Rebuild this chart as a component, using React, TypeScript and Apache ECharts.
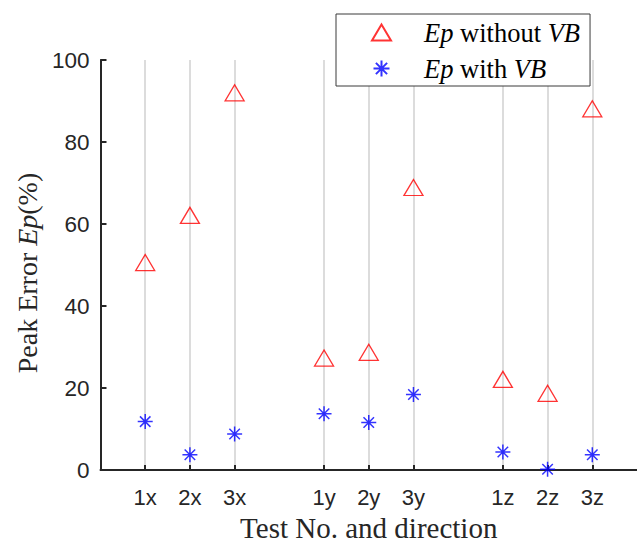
import React, { useEffect, useRef } from "react";
import * as echarts from "echarts";

const categories = ["1x", "2x", "3x", "1y", "2y", "3y", "1z", "2z", "3z"];
const groupSize = 3;
const epWithoutVB = [50.6, 62.1, 92, 27.3, 28.7, 68.9, 22.1, 18.7, 88.1];
const epWithVB = [11.8, 3.7, 8.8, 13.7, 11.6, 18.4, 4.4, 0.2, 3.7];
const yTicks = { min: 0, max: 100, interval: 20 };

// Axis categories with a blank spacer before, between and after each group
const axisCats: string[] = [""];
const catIndex: number[] = [];
categories.forEach((c, i) => {
  catIndex.push(axisCats.length);
  axisCats.push(c);
  if ((i + 1) % groupSize === 0) axisCats.push("");
});

const serif = "Liberation Serif, Times New Roman, serif";
const sans = "Liberation Sans, Arial, Helvetica, sans-serif";
const asterisk =
  "path://M0,-1L0,1M-1,0L1,0M-0.7,-0.7L0.7,0.7M-0.7,0.7L0.7,-0.7";

export default function App() {
  const ref = useRef<HTMLDivElement>(null);
  useEffect(() => {
    if (!ref.current) return;
    const chart = echarts.init(ref.current, undefined, { renderer: "svg" });
    chart.setOption({
      animation: false,
      backgroundColor: "#ffffff",
      grid: {
        left: 100.5,
        right: 0,
        top: 60,
        bottom: 73,
        containLabel: false,
        outerBoundsMode: "none",
      },
      legend: {
        orient: "vertical",
        left: 336,
        top: 14,
        padding: [5, 10, 4, 35],
        itemWidth: 19,
        itemHeight: 16,
        itemGap: 9,
        borderColor: "#3a3a3a",
        borderWidth: 1,
        backgroundColor: "#ffffff",
        data: ["Ep without VB", "Ep with VB"],
        formatter: (name: string) =>
          name === "Ep without VB"
            ? "{i|Ep} without {i|VB}"
            : "{i|Ep} with {i|VB}",
        textStyle: {
          fontFamily: serif,
          fontSize: 26.5,
          color: "#000",
          lineHeight: 26,
          padding: [0, 0, 0, 28],
          rich: {
            i: { fontFamily: serif, fontSize: 26.5, fontStyle: "italic", color: "#000" },
          },
        },
      },
      xAxis: {
        type: "category",
        data: axisCats,
        boundaryGap: false,
        name: "Test No. and direction",
        nameLocation: "middle",
        nameGap: 43,
        nameTextStyle: { fontFamily: serif, fontSize: 29, color: "#262626" },
        axisLine: { show: true, lineStyle: { color: "#262626", width: 2 } },
        axisTick: {
          show: true,
          inside: true,
          length: 5,
          interval: (idx: number, v: string) => v !== "",
          lineStyle: { color: "#262626", width: 2 },
        },
        axisLabel: {
          interval: (idx: number, v: string) => v !== "",
          fontFamily: sans,
          fontSize: 22,
          color: "#262626",
          margin: 16,
        },
        splitLine: {
          show: true,
          interval: (idx: number, v: string) => v !== "",
          lineStyle: { color: "#dcdcdc", width: 2 },
        },
      },
      yAxis: {
        type: "value",
        min: yTicks.min,
        max: yTicks.max,
        interval: yTicks.interval,
        name: "Peak Error {i|Ep}(%)",
        nameLocation: "middle",
        nameGap: 57,
        nameTextStyle: {
          fontFamily: serif,
          fontSize: 28,
          color: "#262626",
          padding: [0, 16, 0, 0],
          rich: {
            i: { fontFamily: serif, fontSize: 28, fontStyle: "italic", color: "#262626" },
          },
        },
        axisLine: { show: true, lineStyle: { color: "#262626", width: 2 } },
        axisTick: { show: true, inside: true, length: 6, lineStyle: { color: "#262626", width: 2 } },
        axisLabel: { fontFamily: sans, fontSize: 22.5, color: "#262626", margin: 11 },
        splitLine: { show: false },
      },
      series: [
        {
          name: "Ep without VB",
          type: "scatter",
          symbol: "triangle",
          symbolSize: [19, 16],
          itemStyle: { color: "rgba(255,255,255,0)", borderColor: "#ff0000", borderWidth: 1.3 },
          data: epWithoutVB.map((v, i) => [catIndex[i], v]),
          z: 3,
        },
        {
          name: "Ep with VB",
          type: "scatter",
          symbol: asterisk,
          symbolSize: 15,
          itemStyle: { color: "rgba(255,255,255,0)", borderColor: "#0000ff", borderWidth: 1.5 },
          data: epWithVB.map((v, i) => [catIndex[i], v]),
          z: 3,
        },
      ],
    });
    return () => chart.dispose();
  }, []);
  return (
    <div
      ref={ref}
      style={{ position: "absolute", left: 0, top: 0, width: 637, height: 543 }}
    />
  );
}
